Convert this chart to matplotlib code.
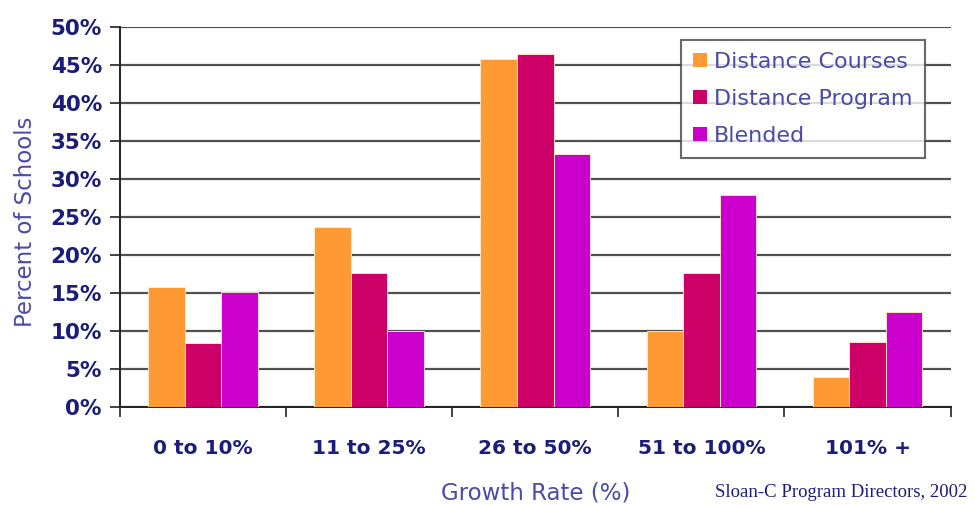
import numpy as np
import matplotlib
matplotlib.use("Agg")
import matplotlib.pyplot as plt

# values (percent of schools)
categories = ["0 to 10%", "11 to 25%", "26 to 50%", "51 to 100%", "101% +"]
series_names = ["Distance Courses", "Distance Program", "Blended"]
distance_courses = [15.7, 23.6, 45.7, 9.9, 3.9]
distance_program = [8.4, 17.6, 46.4, 17.6, 8.5]
blended = [15.1, 10.0, 33.2, 27.9, 12.5]
y_ticks = [0, 5, 10, 15, 20, 25, 30, 35, 40, 45, 50]

colors = ["#FF9933", "#CC0066", "#CC00CC"]
navy = "#1C1C7A"
label_blue = "#4B4BA6"

fig = plt.figure(figsize=(9.75, 5.05), dpi=100)
ax = fig.add_axes([0.123, 0.1947, 0.852, 0.7525])

x = np.arange(len(categories))
w = 0.22
for k, vals in enumerate([distance_courses, distance_program, blended]):
    ax.bar(x + (k - 1) * w, vals, width=w, color=colors[k],
           edgecolor="#FFF2CC", linewidth=0.6, label=series_names[k], zorder=3)

ax.set_xlim(-0.5, len(categories) - 0.5)
ax.set_ylim(0, 50)
ax.set_yticks(y_ticks)
ax.set_yticklabels([f"{v}%" for v in y_ticks])
ax.yaxis.grid(True, color="#505050", linewidth=1.6, zorder=0)
ax.set_axisbelow(True)

ax.set_xticks(x)
ax.set_xticklabels(categories)
ax.set_xticks(np.arange(len(categories) + 1) - 0.5, minor=True)
ax.tick_params(axis="x", which="major", length=0, pad=23)
ax.tick_params(axis="x", which="minor", length=7, width=1.2, color="#222222")
ax.tick_params(axis="y", length=7, width=1.2, color="#222222", pad=6)

for lab in ax.get_xticklabels():
    lab.set_fontsize(14.5)
    lab.set_fontweight("bold")
    lab.set_color(navy)
for lab in ax.get_yticklabels():
    lab.set_fontsize(15.5)
    lab.set_fontweight("bold")
    lab.set_color(navy)

for side in ["top", "right"]:
    ax.spines[side].set_visible(False)
ax.spines["left"].set_color("#222222")
ax.spines["left"].set_linewidth(1.4)
ax.spines["bottom"].set_color("#222222")
ax.spines["bottom"].set_linewidth(1.4)

fig.text(0.026, 0.56, "Percent of Schools", rotation=90, ha="center", va="center",
         fontsize=16.5, color=label_blue)
fig.text(0.549, 0.024, "Growth Rate (%)", ha="center", va="center",
         fontsize=16.5, color=label_blue)
fig.text(0.733, 0.024, "Sloan-C Program Directors, 2002", ha="left", va="center",
         fontsize=13.5, family="Liberation Serif", color=navy)

leg = ax.legend(loc="upper right", bbox_to_anchor=(925 / 975, 1 - 40 / 505),
                bbox_transform=fig.transFigure, fontsize=16, frameon=True,
                fancybox=False, handlelength=0.6, handleheight=0.6,
                handletextpad=0.35, borderpad=0.55, labelspacing=0.75,
                borderaxespad=0)
leg.get_frame().set_edgecolor("#444444")
leg.get_frame().set_linewidth(1.5)
for t in leg.get_texts():
    t.set_color(label_blue)
for h in leg.legend_handles:
    h.set_edgecolor("none")

fig.savefig("out.png", dpi=100)
